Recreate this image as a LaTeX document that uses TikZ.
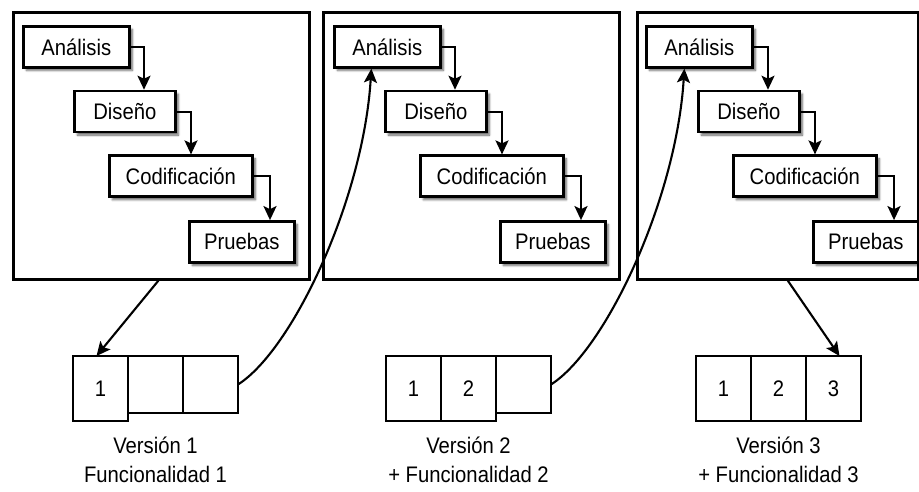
\documentclass[tikz,border=0pt]{standalone}
\usepackage{fontspec}
\setmainfont{Liberation Sans}[FakeStretch=0.9]
\usepackage{tikz}
\usetikzlibrary{arrows.meta, positioning, shadows.blur}
\tikzset{
    frame/.style={
        rectangle,
        draw=black,
        line width=2.7pt,
        minimum height=267pt,
        inner sep=0pt,
        anchor=north west
    },
    stage/.style={
        rectangle,
        draw=black,
        line width=2.7pt,
        minimum height=41pt,
        inner sep=0pt,
        fill=white,
        anchor=north west,
        blur shadow={shadow xshift=3pt, shadow yshift=-3pt, shadow blur steps=6, shadow opacity=60}
    },
    cell/.style={
        rectangle,
        draw=black,
        line width=2.3pt,
        minimum width=55pt,
        minimum height=65pt,
        inner sep=0pt,
        outer sep=0pt,
        fill=white,
        anchor=north west
    },
    slot/.style={
        cell,
        minimum height=57pt
    },
    flow/.style={
        draw=black,
        line width=2.1pt,
        >={Stealth[length=14pt, width=13pt, inset=3pt]},
        ->
    },
    caption/.style={
        align=center,
        inner sep=0pt
    }
}

\begin{document}
\begin{tikzpicture}[x=1pt, y=-1pt, font=\fontsize{22.5}{29}\selectfont]
\useasboundingbox (0,0) rectangle (919,491);

% Version 1 iteration
\node[frame, minimum width=296pt] (frame1) at (12,11) {};
\node[stage, minimum width=106pt] (ana1) at ([shift={(10,14)}]frame1.north west) {Análisis};
\node[stage, minimum width=101pt] (dis1) at ([shift={(51,21)}]ana1.south west) {Diseño};
\node[stage, minimum width=143pt] (cod1) at ([shift={(35,21)}]dis1.south west) {Codificación};
\node[stage, minimum width=105pt] (pru1) at ([shift={(80,22)}]cod1.south west) {Pruebas};

\draw[flow] (ana1.east) -| ([xshift=71pt]dis1.north west);
\draw[flow] (dis1.east) -| ([xshift=83pt]cod1.north west);
\draw[flow] (cod1.east) -| ([xshift=82pt]pru1.north west);

% Version 2 iteration
\node[frame, minimum width=296pt] (frame2) at (322,11) {};
\node[stage, minimum width=106pt] (ana2) at ([shift={(11,14)}]frame2.north west) {Análisis};
\node[stage, minimum width=101pt] (dis2) at ([shift={(51,21)}]ana2.south west) {Diseño};
\node[stage, minimum width=143pt] (cod2) at ([shift={(35,21)}]dis2.south west) {Codificación};
\node[stage, minimum width=105pt] (pru2) at ([shift={(80,22)}]cod2.south west) {Pruebas};

\draw[flow] (ana2.east) -| ([xshift=71pt]dis2.north west);
\draw[flow] (dis2.east) -| ([xshift=83pt]cod2.north west);
\draw[flow] (cod2.east) -| ([xshift=82pt]pru2.north west);

% Version 3 iteration
\node[frame, minimum width=281pt] (frame3) at (636,11) {};
\node[stage, minimum width=106pt] (ana3) at ([shift={(9,14)}]frame3.north west) {Análisis};
\node[stage, minimum width=101pt] (dis3) at ([shift={(52,21)}]ana3.south west) {Diseño};
\node[stage, minimum width=143pt] (cod3) at ([shift={(35,21)}]dis3.south west) {Codificación};
\node[stage, minimum width=105pt] (pru3) at ([shift={(80,22)}]cod3.south west) {Pruebas};

\draw[flow] (ana3.east) -| ([xshift=71pt]dis3.north west);
\draw[flow] (dis3.east) -| ([xshift=83pt]cod3.north west);
\draw[flow] (cod3.east) -| ([xshift=82pt]pru3.north west);

% Delivered versions
\node[cell] (v1_1) at (73,356) {1};
\node[slot] (v1_2) at (v1_1.north east) {};
\node[slot] (v1_3) at (v1_2.north east) {};

\node[cell] (v2_1) at (386,356) {1};
\node[cell] (v2_2) at (v2_1.north east) {2};
\node[slot] (v2_3) at (v2_2.north east) {};

\node[cell] (v3_1) at (696,356) {1};
\node[cell] (v3_2) at (v3_1.north east) {2};
\node[cell] (v3_3) at (v3_2.north east) {3};

\node[caption, below=24pt of v1_2] (ver1) {Versión 1\\Funcionalidad 1};
\node[caption, below=16pt of v2_2] (ver2) {Versión 2\\+ Funcionalidad 2};
\node[caption, below=16pt of v3_2] (ver3) {Versión 3\\+ Funcionalidad 3};

% Iteration links
\draw[flow] ([xshift=-3pt]frame1.south) -- ([xshift=-4pt]v1_1.north);
\draw[flow] (v1_3.east) .. controls +(55,-35) and +(-8,130) .. ([xshift=-16pt]ana2.south);
\draw[flow] (v2_3.east) .. controls +(55,-35) and +(-8,130) .. ([xshift=-15pt]ana3.south);
\draw[flow] ([xshift=10pt]frame3.south) -- ([xshift=6pt]v3_3.north);

\end{tikzpicture}
\end{document}
